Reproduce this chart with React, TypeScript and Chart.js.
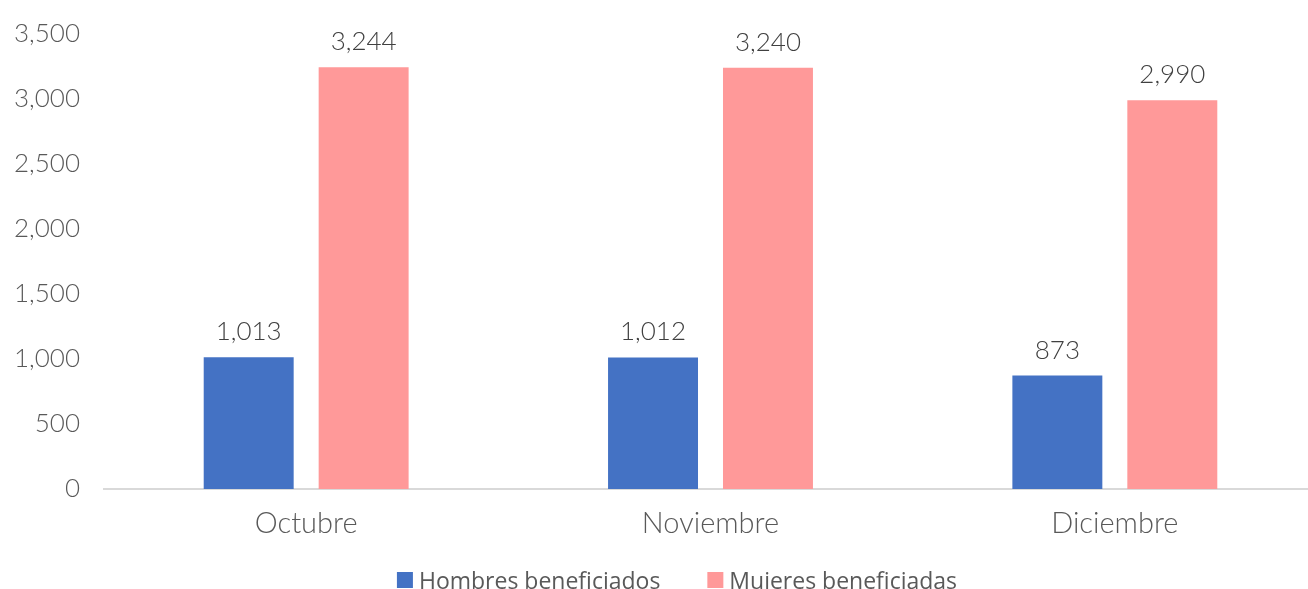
import React, { useEffect, useRef } from "react";
import { Chart, registerables } from "chart.js";

Chart.register(...registerables);

const categories = ["Octubre", "Noviembre", "Diciembre"];
const hombres = [1013, 1012, 873];
const mujeres = [3244, 3240, 2990];
const seriesNames = ["Hombres beneficiados", "Mujeres beneficiadas"];
const seriesColors = ["#4472C4", "#FF9999"];
const yTicks = { min: 0, max: 3500, step: 500 };

const fmt = (v: number) => v.toLocaleString("en-US");

const valueLabels = {
  id: "valueLabels",
  afterDatasetsDraw(chart: any) {
    const ctx = chart.ctx;
    ctx.save();
    ctx.font = "300 26px Lato, 'Open Sans', sans-serif";
    ctx.fillStyle = "#404040";
    ctx.textAlign = "center";
    ctx.textBaseline = "alphabetic";
    chart.data.datasets.forEach((ds: any, i: number) => {
      const meta = chart.getDatasetMeta(i);
      meta.data.forEach((bar: any, j: number) => {
        ctx.fillText(fmt(ds.data[j]), bar.x, bar.y - 17);
      });
    });
    ctx.restore();
  },
};

const bottomLegend = {
  id: "bottomLegend",
  afterDraw(chart: any) {
    const ctx = chart.ctx;
    ctx.save();
    ctx.font = "23px 'Open Sans', sans-serif";
    ctx.textBaseline = "alphabetic";
    ctx.textAlign = "left";
    const box = 16;
    const gapText = 6;
    const gapItem = 47;
    const items = chart.data.datasets.map((ds: any) => ({
      label: ds.label,
      color: ds.backgroundColor,
      w: ctx.measureText(ds.label).width,
    }));
    const total =
      items.reduce((a: number, it: any) => a + box + gapText + it.w, 0) + gapItem * (items.length - 1);
    let x = 677 - total / 2;
    const boxTop = 572;
    const baseline = 589;
    items.forEach((it: any) => {
      ctx.fillStyle = it.color;
      ctx.fillRect(x, boxTop, box, box);
      x += box + gapText;
      ctx.fillStyle = "#595959";
      ctx.fillText(it.label, x, baseline);
      x += it.w + gapItem;
    });
    ctx.restore();
  },
};

const W = 1317;
const H = 589;

export default function App() {
  const ref = useRef<HTMLCanvasElement>(null);
  useEffect(() => {
    document.body.style.margin = "0";
    const chart = new Chart(ref.current!, {
      type: "bar",
      data: {
        labels: categories,
        datasets: [
          {
            label: seriesNames[0],
            data: hombres,
            backgroundColor: seriesColors[0],
            categoryPercentage: 0.5686,
            barPercentage: 0.7826,
          },
          {
            label: seriesNames[1],
            data: mujeres,
            backgroundColor: seriesColors[1],
            categoryPercentage: 0.5686,
            barPercentage: 0.7826,
          },
        ],
      },
      options: {
        animation: false,
        responsive: false,
        layout: { padding: { top: 34, right: 0, left: 0, bottom: 42 } },
        scales: {
          y: {
            min: yTicks.min,
            max: yTicks.max,
            ticks: {
              stepSize: yTicks.step,
              padding: 24,
              color: "#595959",
              font: { family: "Lato, 'Open Sans', sans-serif", size: 26, weight: "300" as any },
              callback: (v: any) => fmt(Number(v)),
            },
            grid: { display: false, drawTicks: false },
            border: { display: false },
            afterFit: (s: any) => {
              s.width = 104;
              s.paddingTop = 0;
              s.paddingBottom = 0;
            },
          },
          x: {
            ticks: {
              padding: 17,
              color: "#595959",
              font: { family: "Lato, 'Open Sans', sans-serif", size: 29, weight: "300" as any },
            },
            grid: { display: false, drawTicks: false },
            border: { display: true, color: "#D9D9D9", width: 2 },
            afterFit: (s: any) => {
              s.height = 58;
            },
          },
        },
        plugins: {
          legend: { display: false },
          tooltip: { enabled: false },
          title: { display: false },
        },
      },
      plugins: [valueLabels, bottomLegend],
    });
    return () => chart.destroy();
  }, []);
  return (
    <div style={{ position: "absolute", left: 0, top: 0, width: 1308, height: 589, overflow: "hidden", background: "#fff" }}>
      <canvas ref={ref} width={W} height={H} style={{ width: W, height: H, display: "block" }} />
    </div>
  );
}
